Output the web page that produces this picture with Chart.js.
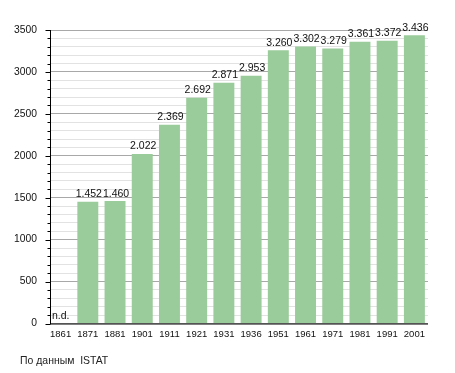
<!DOCTYPE html>
<html>
<head>
<meta charset="utf-8">
<script src="https://cdn.jsdelivr.net/npm/chart.js@4/dist/chart.umd.min.js"></script>
<style>
  html, body { margin: 0; padding: 0; background: #fff; }
  #wrap { position: relative; width: 455px; height: 373px; }
  #note { position: absolute; left: 20px; top: 354px; font: 11px "Liberation Sans", Arial, sans-serif; color: #222;
          transform: scaleX(0.95); transform-origin: left top; white-space: nowrap; }
</style>
</head>
<body>
<div id="wrap">
  <canvas id="popChart" width="455" height="373"></canvas>
  <div id="note">По данным&nbsp; ISTAT</div>
</div>
<script>
var years = ['1861', '1871', '1881', '1901', '1911', '1921', '1931', '1936', '1951', '1961', '1971', '1981', '1991', '2001'];
var population = [null, 1452, 1460, 2022, 2369, 2692, 2871, 2953, 3260, 3302, 3279, 3361, 3372, 3436];
var yTicks = [0, 500, 1000, 1500, 2000, 2500, 3000, 3500];

var fontFamily = '"Liberation Sans", Arial, sans-serif';
var axisX = 50; // where the vertical axis line sits

function isMajor(c) {
    return c.tick && c.tick.value % 500 === 0;
}

// axis line with its tick marks, labels above the bars
var decorations = {
    id: 'decorations',
    afterDraw: function (chart) {
        var ctx = chart.ctx;
        var area = chart.chartArea;
        var y = chart.scales.y;
        ctx.save();
        ctx.fillStyle = '#fff';
        ctx.fillRect(area.left - 1, area.top - 1, axisX - area.left + 1, area.bottom - area.top + 2);
        ctx.strokeStyle = '#000';
        ctx.lineWidth = 1;
        ctx.beginPath();
        ctx.moveTo(axisX + 0.5, area.top);
        ctx.lineTo(axisX + 0.5, area.bottom + 0.5);
        y.ticks.forEach(function (t) {
            var py = Math.round(y.getPixelForValue(t.value)) + 0.5;
            var len = t.value % 500 === 0 ? 5 : 3;
            ctx.moveTo(axisX + 0.5 - len, py);
            ctx.lineTo(axisX + 0.5, py);
        });
        ctx.moveTo(axisX, area.bottom + 0.5);
        ctx.lineTo(area.right, area.bottom + 0.5);
        ctx.stroke();

        var meta = chart.getDatasetMeta(0);
        ctx.font = '10.5px ' + fontFamily;
        ctx.fillStyle = '#111';
        ctx.textBaseline = 'alphabetic';
        meta.data.forEach(function (bar, i) {
            var v = population[i];
            if (v === null) {
                ctx.textAlign = 'left';
                ctx.fillText('n.d.', axisX + 2, area.bottom - 5);
            } else {
                ctx.textAlign = 'center';
                ctx.fillText(v.toLocaleString('de-DE'), bar.x + 1, bar.y - 4.5);
            }
        });
        ctx.restore();
    }
};

new Chart(document.getElementById('popChart').getContext('2d'), {
    type: 'bar',
    data: {
        labels: years,
        datasets: [{
            data: population,
            backgroundColor: '#9acb9a',
            borderWidth: 0,
            barPercentage: 0.77,
            categoryPercentage: 1
        }]
    },
    options: {
        responsive: false,
        animation: false,
        layout: { padding: { left: 0, top: 30, right: 27, bottom: 29.5 } },
        plugins: { legend: { display: false }, tooltip: { enabled: false } },
        scales: {
            x: {
                grid: { display: false, drawTicks: false },
                border: { display: false },
                ticks: { color: '#111', font: { family: fontFamily, size: 9.5 }, padding: 5, maxRotation: 0, autoSkip: false },
                afterFit: function (axis) { axis.height = 20; }
            },
            y: {
                min: 0,
                max: 3500,
                border: { display: false },
                grid: {
                    color: function (c) { return isMajor(c) ? '#a8a8a8' : '#e2e2e2'; },
                    drawTicks: false
                },
                ticks: {
                    stepSize: 100,
                    autoSkip: false,
                    color: '#111',
                    font: { family: fontFamily, size: 10.3 },
                    padding: 10,
                    callback: function (v) { return yTicks.indexOf(v) >= 0 ? v : ''; }
                },
                afterFit: function (axis) { axis.width = 47; }
            }
        }
    },
    plugins: [decorations]
});
</script>
</body>
</html>
